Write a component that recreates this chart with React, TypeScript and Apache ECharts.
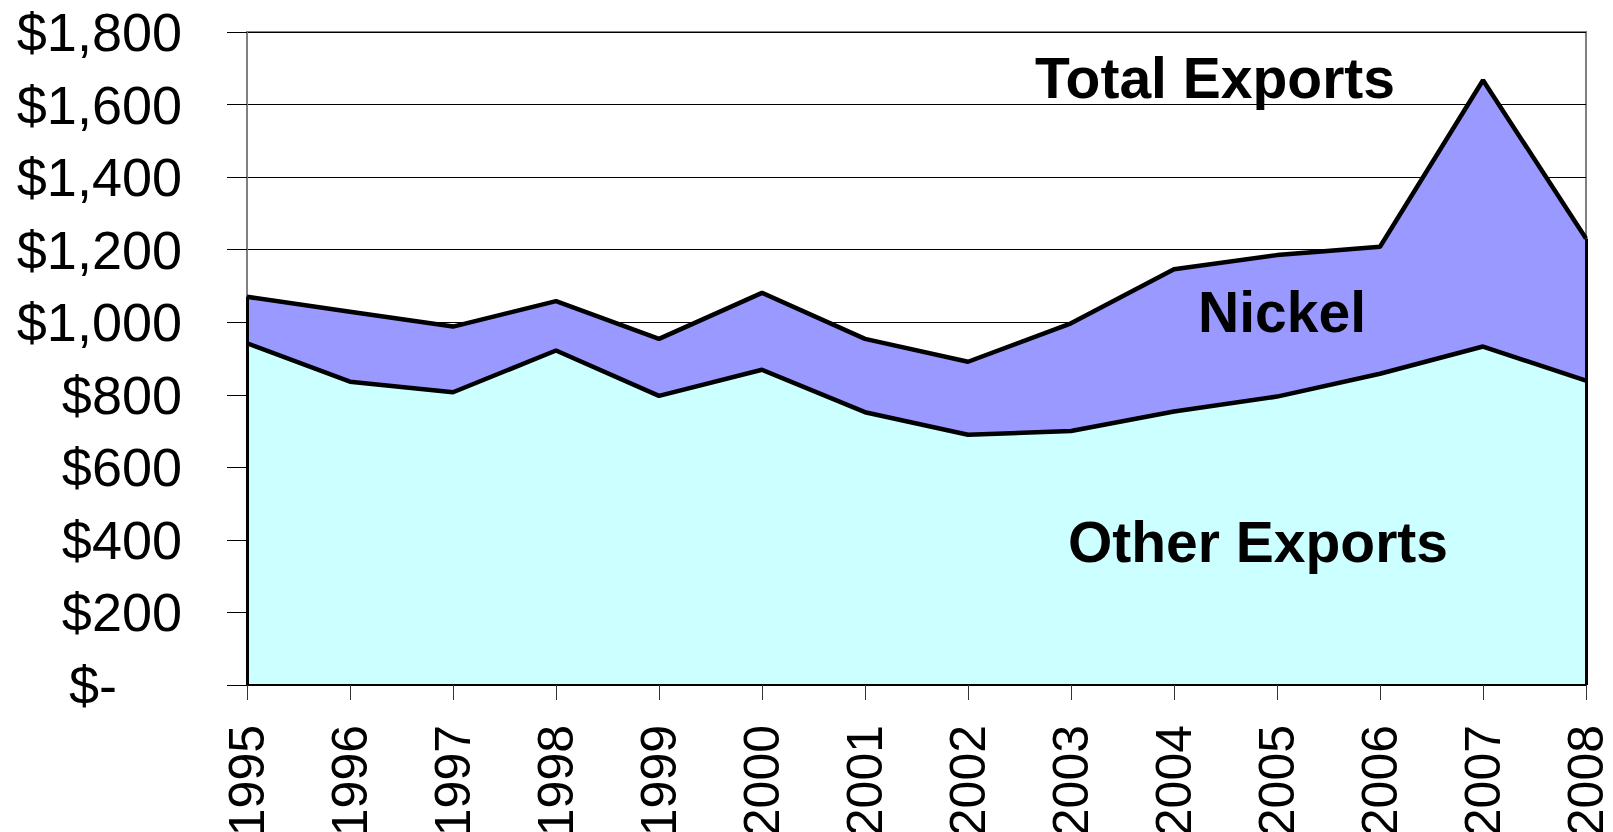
import React, { useEffect, useRef } from "react";
import * as echarts from "echarts";

const years = ["1995", "1996", "1997", "1998", "1999", "2000", "2001", "2002", "2003", "2004", "2005", "2006", "2007", "2008"];
const otherExports = [942, 836, 807, 922, 797, 869, 752, 690, 700, 754, 795, 858, 933, 839];
const nickelExports = [128, 193, 181, 136, 157, 212, 202, 201, 297, 392, 390, 350, 734, 392];
const yTicks = { min: 0, max: 1800, interval: 200 };
const areaLabels = [
  { text: "Total Exports", x: 1215, y: 78 },
  { text: "Nickel", x: 1282, y: 312 },
  { text: "Other Exports", x: 1258, y: 542 },
];

const FONT = "'Liberation Sans', Arial, sans-serif";

export default function App() {
  const ref = useRef<HTMLDivElement>(null);
  useEffect(() => {
    if (!ref.current) return;
    const chart = echarts.init(ref.current, undefined, { renderer: "svg" });
    const first = 0;
    const last = years.length - 1;
    const totalFirst = otherExports[first] + nickelExports[first];
    const totalLast = otherExports[last] + nickelExports[last];
    chart.setOption({
      animation: false,
      backgroundColor: "#ffffff",
      grid: {
        left: 247,
        right: 27,
        top: 32,
        bottom: 147,
        containLabel: false,
        outerBoundsMode: "none",
        show: true,
        borderColor: "#808080",
        borderWidth: 2,
        backgroundColor: "transparent",
      },
      xAxis: {
        type: "category",
        data: years,
        boundaryGap: false,
        axisLine: { show: true, lineStyle: { color: "#000", width: 2 } },
        axisTick: { show: true, length: 15, lineStyle: { color: "#333", width: 1 } },
        axisLabel: {
          rotate: 90,
          margin: 40,
          fontSize: 50,
          fontFamily: FONT,
          color: "#000",
        },
        splitLine: { show: false },
        z: 10,
      },
      yAxis: {
        type: "value",
        min: yTicks.min,
        max: yTicks.max,
        interval: yTicks.interval,
        axisLine: { show: true, lineStyle: { color: "#808080", width: 2 } },
        axisTick: { show: true, length: 20, lineStyle: { color: "#000", width: 1 } },
        axisLabel: {
          margin: 65,
          fontSize: 54,
          fontFamily: FONT,
          color: "#000",
          formatter: (v: number) => (v === 0 ? "{z|$-}" : "$" + v.toLocaleString("en-US")),
          rich: {
            z: { fontSize: 54, fontFamily: FONT, color: "#000", padding: [0, 65, 0, 0] },
          },
        },
        splitLine: { show: true, lineStyle: { color: "#000", width: 1 } },
      },
      series: [
        {
          name: "Other Exports",
          type: "line",
          stack: "exports",
          data: otherExports,
          symbol: "none",
          z: 4,
          lineStyle: { color: "#000", width: 4.5 },
          areaStyle: { color: "#CCFFFF", opacity: 1 },
          markLine: {
            silent: true,
            symbol: "none",
            label: { show: false },
            lineStyle: { color: "#000", width: 3, type: "solid" },
            data: [
              [{ coord: [years[first], 0] }, { coord: [years[first], totalFirst] }],
              [{ coord: [years[last], 0] }, { coord: [years[last], totalLast] }],
            ],
          },
        },
        {
          name: "Nickel",
          type: "line",
          stack: "exports",
          data: nickelExports,
          symbol: "none",
          z: 3,
          lineStyle: { color: "#000", width: 4.5 },
          areaStyle: { color: "#9999FF", opacity: 1 },
        },
      ],
      graphic: areaLabels.map((l) => ({
        type: "text",
        x: l.x,
        y: l.y,
        z: 100,
        style: {
          text: l.text,
          fontSize: 57,
          fontWeight: "bold",
          fontFamily: FONT,
          fill: "#000",
          textAlign: "center",
          textVerticalAlign: "middle",
        },
      })),
    });
    return () => chart.dispose();
  }, []);
  return <div ref={ref} style={{ width: 1613, height: 832, position: "absolute", left: 0, top: 0 }} />;
}
